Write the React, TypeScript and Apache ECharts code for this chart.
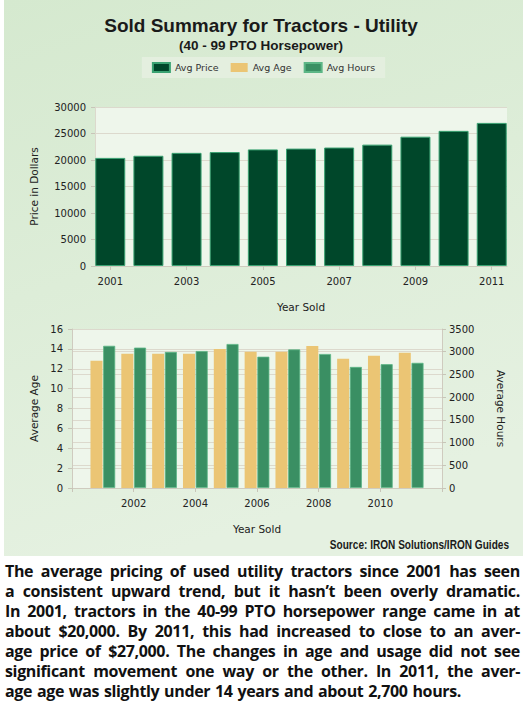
import React, { useEffect, useRef } from "react";
import * as echarts from "echarts";

const years = [2001, 2002, 2003, 2004, 2005, 2006, 2007, 2008, 2009, 2010, 2011];
const avgPrice = [20400, 20800, 21350, 21500, 22000, 22150, 22350, 22900, 24400, 25500, 27000];
const avgAge = [12.8, 13.5, 13.5, 13.5, 14.0, 13.7, 13.7, 14.3, 13.0, 13.3, 13.6];
const avgHours = [3130, 3090, 2995, 3015, 3170, 2890, 3050, 2950, 2665, 2725, 2755];
const topYearTicks = [2001, 2003, 2005, 2007, 2009, 2011];
const bottomYearLabels = [2002, 2004, 2006, 2008, 2010];

const titleText = "Sold Summary for Tractors - Utility";
const subtitleText = "(40 - 99 PTO Horsepower)";
const sourceText = "Source: IRON Solutions/IRON Guides";
const paragraphLines = [
  "The average pricing of used utility tractors since 2001 has seen",
  "a consistent upward trend, but it hasn\u2019t been overly dramatic.",
  "In 2001, tractors in the 40-99 PTO horsepower range came in at",
  "about $20,000. By 2011, this had increased to close to an aver-",
  "age price of $27,000. The changes in age and usage did not see",
  "significant movement one way or the other. In 2011, the aver-",
  "age age was slightly under 14 years and about 2,700 hours.",
];

const FONT = "DejaVu Sans";
const LABEL = { color: "#222", fontSize: 10, fontFamily: FONT };
const NAME = { color: "#222", fontSize: 10.5, fontFamily: FONT };
const GRIDLINE = { lineStyle: { color: "#dcd9cd", width: 1 } };
const AXLINE = { lineStyle: { color: "#cfcbbf", width: 1 } };
const plain = (v: number) => String(v);

export default function App() {
  const ref = useRef<HTMLDivElement>(null);

  useEffect(() => {
    if (!ref.current) return;
    const chart = echarts.init(ref.current, null, { renderer: "svg" });
    const option: any = {
      animation: false,
      backgroundColor: new echarts.graphic.LinearGradient(0, 0, 0.3, 1, [
        { offset: 0, color: "#d5e9cf" },
        { offset: 1, color: "#e5f1e1" },
      ]),
      graphic: [
        {
          type: "text",
          x: 257,
          y: 25,
          style: {
            text: titleText,
            align: "center",
            verticalAlign: "middle",
            fontSize: 19,
            fontWeight: "bold",
            fontFamily: "Liberation Sans",
            fill: "#1a1a1a",
          },
        },
        {
          type: "text",
          x: 257,
          y: 45,
          style: {
            text: subtitleText,
            align: "center",
            verticalAlign: "middle",
            fontSize: 13.5,
            fontWeight: "bold",
            fontFamily: "Liberation Sans",
            fill: "#1a1a1a",
          },
        },
        {
          type: "text",
          x: 505,
          y: 545,
          scaleX: 0.84,
          style: {
            text: sourceText,
            align: "right",
            verticalAlign: "middle",
            fontSize: 12,
            fontWeight: "bold",
            fontFamily: "Liberation Sans",
            fill: "#1a1a1a",
          },
        },
      ],
      legend: {
        top: 57,
        left: "center",
        data: ["Avg Price", "Avg Age", "Avg Hours"],
        backgroundColor: "#e4efdf",
        padding: [5, 10],
        itemWidth: 17,
        itemHeight: 9,
        itemGap: 12,
        icon: "rect",
        textStyle: { color: "#333", fontSize: 9.5, fontFamily: FONT },
      },
      grid: [
        {
          left: 91,
          right: 16,
          top: 107,
          height: 159,
          show: true,
          backgroundColor: "#eef6eb",
          borderWidth: 0,
        },
        {
          left: 68,
          right: 81,
          top: 329,
          height: 159,
          show: true,
          backgroundColor: "#eef6eb",
          borderWidth: 0,
        },
      ],
      xAxis: [
        {
          gridIndex: 0,
          type: "value",
          min: 2000.6,
          max: 2011.4,
          name: "Year Sold",
          nameLocation: "middle",
          nameGap: 35,
          nameTextStyle: NAME,
          axisLine: AXLINE,
          axisTick: { show: true, length: 4, lineStyle: { color: "#c8c5b8" }, customValues: topYearTicks },
          axisLabel: { ...LABEL, margin: 10, customValues: topYearTicks, formatter: plain },
          splitLine: { show: false },
        },
        {
          gridIndex: 1,
          type: "value",
          min: 2000,
          max: 2012,
          interval: 2,
          name: "Year Sold",
          nameLocation: "middle",
          nameGap: 35,
          nameTextStyle: NAME,
          axisLine: AXLINE,
          axisTick: { show: true, length: 4, lineStyle: { color: "#c8c5b8" } },
          axisLabel: {
            ...LABEL,
            margin: 10,
            formatter: (v: number) => (bottomYearLabels.indexOf(v) >= 0 ? String(v) : ""),
          },
          splitLine: { show: false },
        },
      ],
      yAxis: [
        {
          gridIndex: 0,
          type: "value",
          min: 0,
          max: 30000,
          interval: 5000,
          name: "Price in Dollars",
          nameLocation: "middle",
          nameRotate: 90,
          nameGap: 56,
          nameTextStyle: NAME,
          axisLine: { show: true, lineStyle: { color: "#dcd9cd" } },
          axisTick: { show: true, length: 4, lineStyle: { color: "#c8c5b8" } },
          axisLabel: { ...LABEL, margin: 9, formatter: plain },
          splitLine: GRIDLINE,
        },
        {
          gridIndex: 1,
          type: "value",
          min: 0,
          max: 16,
          interval: 2,
          name: "Average Age",
          nameLocation: "middle",
          nameRotate: 90,
          nameGap: 33,
          nameTextStyle: NAME,
          axisLine: { show: true, ...AXLINE },
          axisTick: { show: true, length: 4, lineStyle: { color: "#c8c5b8" } },
          axisLabel: { ...LABEL, margin: 9, formatter: plain },
          splitLine: GRIDLINE,
        },
        {
          gridIndex: 1,
          type: "value",
          position: "right",
          min: 0,
          max: 3500,
          interval: 500,
          name: "Average Hours",
          nameLocation: "middle",
          nameRotate: -90,
          nameGap: 53,
          nameTextStyle: NAME,
          axisLine: { show: true, ...AXLINE },
          axisTick: { show: true, length: 4, lineStyle: { color: "#c8c5b8" } },
          axisLabel: { ...LABEL, margin: 7, formatter: plain },
          splitLine: GRIDLINE,
        },
      ],
      series: [
        {
          name: "Avg Price",
          type: "bar",
          xAxisIndex: 0,
          yAxisIndex: 0,
          barWidth: 30,
          data: years.map((y, i) => [y, avgPrice[i]]),
          itemStyle: { color: "#00472a", borderColor: "#3aa272", borderWidth: 1 },
        },
        {
          name: "Avg Age",
          type: "bar",
          xAxisIndex: 1,
          yAxisIndex: 1,
          barWidth: 12,
          barGap: "6%",
          data: years.map((y, i) => [y, avgAge[i]]),
          itemStyle: { color: "#ebc574" },
        },
        {
          name: "Avg Hours",
          type: "bar",
          xAxisIndex: 1,
          yAxisIndex: 2,
          barWidth: 12,
          barGap: "6%",
          data: years.map((y, i) => [y, avgHours[i]]),
          itemStyle: { color: "#3a8f63", borderColor: "#5cb686", borderWidth: 0.8 },
        },
      ],
    };
    chart.setOption(option);
    return () => chart.dispose();
  }, []);

  return (
    <div style={{ position: "absolute", left: 0, top: 0, width: 527, height: 712, background: "#fff", overflow: "hidden" }}>
      <div ref={ref} style={{ position: "absolute", left: 4, top: 0, width: 519, height: 556 }} />
      <div
        style={{
          position: "absolute",
          left: 5,
          top: 561,
          width: 515,
          fontFamily: "'Open Sans'",
          fontWeight: 700,
          fontSize: 16,
          letterSpacing: "-0.35px",
          lineHeight: "20px",
          color: "#111",
        }}
      >
        {paragraphLines.map((line, li) => (
          <div
            key={li}
            style={{
              display: "flex",
              justifyContent: li === paragraphLines.length - 1 ? "flex-start" : "space-between",
              whiteSpace: "nowrap",
              height: 20,
            }}
          >
            {line.split(" ").map((w, wi) => (
              <span key={wi} style={{ marginRight: li === paragraphLines.length - 1 ? "0.3em" : 0 }}>
                {w}
              </span>
            ))}
          </div>
        ))}
      </div>
    </div>
  );
}
